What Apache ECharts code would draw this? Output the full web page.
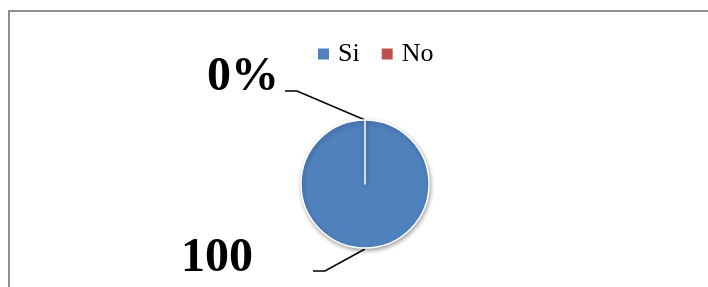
<!DOCTYPE html>
<html>
<head>
<meta charset="utf-8">
<script src="https://cdn.jsdelivr.net/npm/echarts@6/dist/echarts.min.js"></script>
<style>
  html, body { margin: 0; padding: 0; background: #fff; }
  #chart { width: 708px; height: 287px; }
</style>
</head>
<body>
<div id="chart"></div>
<script>
// categories and values
const categories = ['Si', 'No'];
const values = [100, 0];
const colors = ['#4F81BD', '#C0504D'];

// pie geometry
const cx = 365, cy = 184, r = 64;

const chart = echarts.init(document.getElementById('chart'));

const option = {
  animation: false,
  graphic: [{
    type: 'polyline',
    shape: { points: [[9, 400], [9, 11], [800, 11]] },
    style: { fill: 'none', stroke: '#8e8e8e', lineWidth: 2 },
    silent: true
  }],
  legend: {
    data: categories,
    left: 311,
    top: 36,
    icon: 'rect',
    itemWidth: 13,
    itemHeight: 13,
    itemGap: 20,
    textStyle: { fontFamily: 'Liberation Serif', fontSize: 26, color: '#000', padding: [0, 0, 0, 3] }
  },
  series: [{
    type: 'pie',
    center: [cx, cy],
    radius: r,
    startAngle: 90,
    clockwise: true,
    data: categories.map((name, i) => ({
      name: name,
      value: values[i],
      itemStyle: { color: colors[i] }
    })),
    itemStyle: {
      borderColor: '#fff',
      borderWidth: 1.5,
      shadowBlur: 4,
      shadowOffsetX: 1,
      shadowOffsetY: 2,
      shadowColor: 'rgba(0,0,0,0.35)'
    },
    label: {
      show: true,
      formatter: p => p.percent + '%',
      width: 80,
      overflow: 'break',
      fontFamily: 'Liberation Serif',
      fontWeight: 'bold',
      fontSize: 48,
      lineHeight: 50,
      color: '#000'
    },
    labelLine: {
      show: true,
      lineStyle: { color: '#000', width: 1.5 }
    },
    labelLayout: function (params) {
      if (params.dataIndex === 1) {
        return {
          x: 207, y: 78, align: 'left', verticalAlign: 'middle',
          labelLinePoints: [[cx, cy - r], [cx - 68, 91], [cx - 80, 91]]
        };
      }
      return {
        x: 181, y: 234, align: 'left', verticalAlign: 'top',
        labelLinePoints: [[cx, cy + r + 1], [cx - 40, 271], [cx - 52, 271]]
      };
    },
    emphasis: { disabled: true }
  }]
};

chart.setOption(option);
</script>
</body>
</html>
